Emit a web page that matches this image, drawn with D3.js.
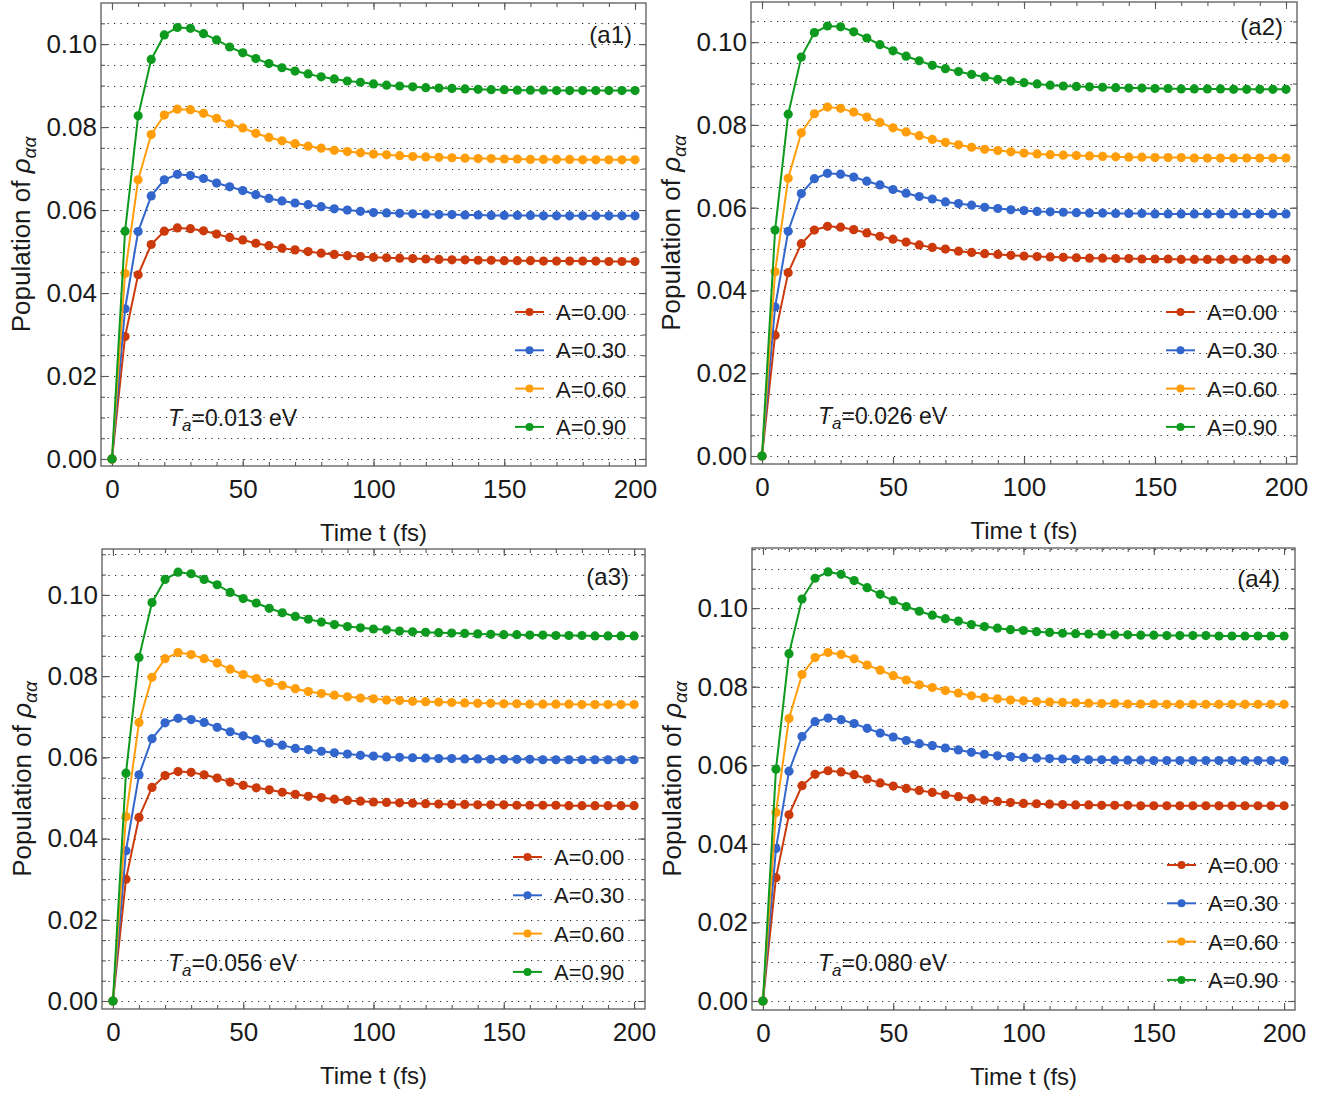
<!DOCTYPE html>
<html>
<head>
<meta charset="utf-8">
<script src="https://cdn.jsdelivr.net/npm/d3@7"></script>
<style>
  body { margin: 0; background: #fff; }
  svg { display: block; font-family: "Liberation Sans", Arial, sans-serif; }
</style>
</head>
<body>
<svg id="chart" width="1338" height="1096"></svg>
<script>
// ---------------- DATA ----------------
const timeFs = [0,5,10,15,20,25,30,35,40,45,50,55,60,65,70,75,80,85,90,95,100,105,110,115,120,125,130,135,140,145,150,155,160,165,170,175,180,185,190,195,200];
const seriesNames = ["A=0.00", "A=0.30", "A=0.60", "A=0.90"];
const panelLabels = ["(a1)", "(a2)", "(a3)", "(a4)"];
const temperatureLabels = ["0.013", "0.026", "0.056", "0.080"];
const xTickLabels = [0, 50, 100, 150, 200];
const yTickLabels = [0.00, 0.02, 0.04, 0.06, 0.08, 0.10];

// panel a1 (Ta = 0.013 eV)
const a1_A000 = [0,0.0295,0.0444,0.0517,0.0549,0.0557,0.0555,0.0550,0.0542,0.0534,0.0528,0.0520,0.0514,0.0508,0.0504,0.0500,0.0496,0.0493,0.0490,0.0488,0.0486,0.0485,0.0484,0.0483,0.0482,0.0481,0.0480,0.0480,0.0479,0.0479,0.0478,0.0478,0.0478,0.0477,0.0477,0.0477,0.0477,0.0477,0.0476,0.0476,0.0476];
const a1_A030 = [0,0.0362,0.0548,0.0634,0.0673,0.0686,0.0683,0.0676,0.0665,0.0656,0.0647,0.0637,0.0628,0.0622,0.0617,0.0613,0.0608,0.0603,0.0600,0.0597,0.0594,0.0593,0.0592,0.0591,0.0590,0.0589,0.0589,0.0588,0.0588,0.0587,0.0587,0.0587,0.0587,0.0586,0.0586,0.0586,0.0586,0.0586,0.0586,0.0586,0.0586];
const a1_A060 = [0,0.0447,0.0673,0.0782,0.0829,0.0843,0.0842,0.0833,0.0821,0.0808,0.0798,0.0785,0.0775,0.0767,0.0760,0.0754,0.0749,0.0744,0.0741,0.0738,0.0735,0.0733,0.0731,0.0729,0.0728,0.0727,0.0726,0.0725,0.0724,0.0724,0.0723,0.0723,0.0722,0.0722,0.0722,0.0722,0.0721,0.0721,0.0721,0.0721,0.0721];
const a1_A090 = [0,0.0549,0.0827,0.0963,0.1022,0.1040,0.1038,0.1025,0.1010,0.0993,0.0979,0.0965,0.0953,0.0943,0.0935,0.0928,0.0921,0.0916,0.0911,0.0908,0.0904,0.0901,0.0899,0.0897,0.0895,0.0894,0.0893,0.0892,0.0891,0.0890,0.0890,0.0889,0.0889,0.0889,0.0888,0.0888,0.0888,0.0888,0.0888,0.0888,0.0888];

// panel a2 (Ta = 0.026 eV)
const a2_A000 = [0,0.0292,0.0443,0.0513,0.0546,0.0555,0.0553,0.0547,0.0539,0.0531,0.0524,0.0517,0.0510,0.0504,0.0500,0.0495,0.0492,0.0489,0.0487,0.0485,0.0483,0.0482,0.0481,0.0480,0.0479,0.0478,0.0478,0.0477,0.0477,0.0476,0.0476,0.0476,0.0475,0.0475,0.0475,0.0475,0.0475,0.0475,0.0475,0.0475,0.0475];
const a2_A030 = [0,0.0360,0.0543,0.0634,0.0670,0.0683,0.0681,0.0674,0.0664,0.0655,0.0644,0.0635,0.0627,0.0621,0.0614,0.0610,0.0606,0.0601,0.0598,0.0595,0.0593,0.0591,0.0590,0.0589,0.0588,0.0587,0.0587,0.0586,0.0586,0.0586,0.0585,0.0585,0.0585,0.0585,0.0585,0.0585,0.0585,0.0585,0.0585,0.0585,0.0585];
const a2_A060 = [0,0.0445,0.0671,0.0781,0.0827,0.0843,0.0840,0.0831,0.0819,0.0806,0.0793,0.0783,0.0774,0.0765,0.0758,0.0752,0.0746,0.0741,0.0738,0.0735,0.0732,0.0730,0.0728,0.0727,0.0726,0.0725,0.0724,0.0723,0.0722,0.0722,0.0721,0.0721,0.0721,0.0720,0.0720,0.0720,0.0720,0.0720,0.0720,0.0720,0.0720];
const a2_A090 = [0,0.0546,0.0826,0.0964,0.1023,0.1039,0.1037,0.1025,0.1010,0.0994,0.0979,0.0966,0.0955,0.0944,0.0936,0.0929,0.0922,0.0916,0.0910,0.0906,0.0902,0.0899,0.0896,0.0894,0.0893,0.0892,0.0891,0.0890,0.0889,0.0889,0.0888,0.0888,0.0887,0.0887,0.0887,0.0887,0.0886,0.0886,0.0886,0.0886,0.0886];

// panel a3 (Ta = 0.056 eV)
const a3_A000 = [0,0.0300,0.0452,0.0526,0.0555,0.0565,0.0563,0.0557,0.0549,0.0539,0.0531,0.0525,0.0520,0.0514,0.0509,0.0504,0.0501,0.0497,0.0494,0.0492,0.0490,0.0489,0.0488,0.0487,0.0486,0.0485,0.0484,0.0484,0.0483,0.0483,0.0483,0.0482,0.0482,0.0482,0.0482,0.0481,0.0481,0.0481,0.0481,0.0481,0.0481];
const a3_A030 = [0,0.0370,0.0557,0.0646,0.0685,0.0696,0.0693,0.0686,0.0674,0.0663,0.0653,0.0644,0.0635,0.0630,0.0622,0.0619,0.0615,0.0611,0.0608,0.0605,0.0603,0.0601,0.0600,0.0599,0.0598,0.0597,0.0597,0.0596,0.0596,0.0595,0.0595,0.0595,0.0595,0.0594,0.0594,0.0594,0.0594,0.0594,0.0594,0.0594,0.0594];
const a3_A060 = [0,0.0454,0.0686,0.0797,0.0843,0.0858,0.0853,0.0843,0.0832,0.0817,0.0804,0.0794,0.0784,0.0777,0.0769,0.0762,0.0757,0.0753,0.0749,0.0746,0.0744,0.0741,0.0740,0.0738,0.0737,0.0736,0.0735,0.0734,0.0733,0.0733,0.0732,0.0732,0.0731,0.0731,0.0731,0.0731,0.0730,0.0730,0.0730,0.0730,0.0730];
const a3_A090 = [0,0.0561,0.0846,0.0981,0.1038,0.1056,0.1052,0.1038,0.1025,0.1006,0.0991,0.0980,0.0967,0.0956,0.0947,0.0940,0.0933,0.0927,0.0922,0.0919,0.0916,0.0914,0.0911,0.0909,0.0908,0.0907,0.0906,0.0905,0.0904,0.0903,0.0902,0.0902,0.0901,0.0901,0.0900,0.0900,0.0900,0.0899,0.0899,0.0899,0.0899];

// panel a4 (Ta = 0.080 eV)
const a4_A000 = [0,0.0314,0.0474,0.0548,0.0577,0.0586,0.0583,0.0576,0.0565,0.0555,0.0547,0.0541,0.0536,0.0531,0.0525,0.0520,0.0515,0.0511,0.0508,0.0505,0.0503,0.0502,0.0501,0.0500,0.0499,0.0499,0.0498,0.0498,0.0498,0.0497,0.0497,0.0497,0.0497,0.0497,0.0497,0.0497,0.0497,0.0497,0.0497,0.0497,0.0497];
const a4_A030 = [0,0.0388,0.0585,0.0673,0.0711,0.0720,0.0716,0.0706,0.0694,0.0682,0.0672,0.0663,0.0655,0.0650,0.0644,0.0639,0.0633,0.0628,0.0624,0.0622,0.0620,0.0618,0.0617,0.0616,0.0615,0.0614,0.0614,0.0613,0.0613,0.0613,0.0612,0.0612,0.0612,0.0612,0.0612,0.0612,0.0612,0.0612,0.0612,0.0612,0.0612];
const a4_A060 = [0,0.0480,0.0719,0.0831,0.0874,0.0887,0.0882,0.0871,0.0855,0.0842,0.0828,0.0817,0.0805,0.0798,0.0790,0.0784,0.0777,0.0772,0.0769,0.0766,0.0764,0.0762,0.0761,0.0760,0.0759,0.0758,0.0757,0.0757,0.0756,0.0756,0.0756,0.0755,0.0755,0.0755,0.0755,0.0755,0.0755,0.0755,0.0755,0.0755,0.0755];
const a4_A090 = [0,0.0590,0.0884,0.1023,0.1076,0.1092,0.1086,0.1070,0.1052,0.1035,0.1019,0.1004,0.0992,0.0982,0.0973,0.0967,0.0958,0.0953,0.0949,0.0945,0.0943,0.0940,0.0938,0.0936,0.0935,0.0934,0.0933,0.0932,0.0932,0.0931,0.0931,0.0930,0.0930,0.0930,0.0930,0.0929,0.0929,0.0929,0.0929,0.0929,0.0929];

const panelSeries = [
  [a1_A000, a1_A030, a1_A060, a1_A090],
  [a2_A000, a2_A030, a2_A060, a2_A090],
  [a3_A000, a3_A030, a3_A060, a3_A090],
  [a4_A000, a4_A030, a4_A060, a4_A090]
];

// ---------------- STYLE / LAYOUT ----------------
const colors = ["#CC3A0C", "#3366CC", "#FF9E0A", "#0E9A1E"];
const layout = [
  { x: 101, y: 3,   w: 545, h: 463, yDom: [-0.00169, 0.1099], leg: { x: 515, y: 312 }, ta: { x: 168, y: 426 }, lab: { x: 632, y: 43 } },
  { x: 751, y: 2,   w: 546, h: 462, yDom: [-0.00193, 0.1097], leg: { x: 1166, y: 312 }, ta: { x: 818, y: 424 }, lab: { x: 1283, y: 35 } },
  { x: 102, y: 549, w: 543, h: 460, yDom: [-0.00197, 0.1113], leg: { x: 513, y: 857 }, ta: { x: 168, y: 971 }, lab: { x: 629, y: 585 } },
  { x: 752, y: 548, w: 543, h: 462, yDom: [-0.00229, 0.1153], leg: { x: 1167, y: 865 }, ta: { x: 818, y: 971 }, lab: { x: 1280, y: 587 } }
];
const xDom = [-4.2, 204.2];

const svg = d3.select("#chart");
const textColor = "#1a1a1a";
const frameColor = "#5a5a5a";

layout.forEach((L, pi) => {
  const g = svg.append("g");
  const x = d3.scaleLinear().domain(xDom).range([L.x, L.x + L.w]);
  const y = d3.scaleLinear().domain(L.yDom).range([L.y + L.h, L.y]);

  // dotted gridlines every 0.005
  const minorY = d3.range(0, L.yDom[1] + 1e-9, 0.005);
  g.append("g").selectAll("line").data(minorY).join("line")
    .attr("x1", L.x).attr("x2", L.x + L.w)
    .attr("y1", d => Math.round(y(d)) + 0.5).attr("y2", d => Math.round(y(d)) + 0.5)
    .attr("stroke", "#222").attr("stroke-width", 1.1)
    .attr("stroke-dasharray", "1.2,5.3");

  // axes with inside ticks
  const minorX = d3.range(0, 201, 10);
  const mkAxis = (axisFn, scale, vals, size, labels, translate, pad) => {
    const ax = axisFn(scale).tickValues(vals).tickSizeInner(-size).tickSizeOuter(0).tickPadding(pad);
    if (!labels) ax.tickFormat("");
    const a = g.append("g").attr("transform", translate).call(ax);
    a.select(".domain").remove();
    a.selectAll(".tick line").attr("stroke", frameColor).attr("stroke-width", 1.1);
    a.selectAll("text").attr("fill", textColor).style("font-size", "26px")
      .style("font-family", '"Liberation Sans", Arial, sans-serif');
    return a;
  };
  // bottom
  mkAxis(d3.axisBottom, x, minorX, 4, false, `translate(0,${L.y + L.h})`, 14);
  mkAxis(d3.axisBottom, x, xTickLabels, 7, true, `translate(0,${L.y + L.h})`, 14);
  // top
  mkAxis(d3.axisTop, x, minorX, 4, false, `translate(0,${L.y})`, 8);
  mkAxis(d3.axisTop, x, xTickLabels, 7, false, `translate(0,${L.y})`, 8);
  // left
  mkAxis(d3.axisLeft, y, minorY, 4, false, `translate(${L.x},0)`, 4);
  const ly = mkAxis(d3.axisLeft, y, yTickLabels, 7, true, `translate(${L.x},0)`, 4);
  ly.call(a => a.selectAll("text").text(d => d3.format(".2f")(d)));
  // right
  mkAxis(d3.axisRight, y, minorY, 4, false, `translate(${L.x + L.w},0)`, 4);
  mkAxis(d3.axisRight, y, yTickLabels, 7, false, `translate(${L.x + L.w},0)`, 4);

  // series
  const line = d3.line().x((d, i) => x(timeFs[i])).y(d => y(d));
  panelSeries[pi].forEach((vals, si) => {
    const sg = g.append("g");
    sg.append("path").datum(vals).attr("d", line)
      .attr("fill", "none").attr("stroke", colors[si]).attr("stroke-width", 2)
      .attr("stroke-linejoin", "round");
    sg.selectAll("circle").data(vals).join("circle")
      .attr("cx", (d, i) => x(timeFs[i])).attr("cy", d => y(d)).attr("r", 4.6)
      .attr("fill", colors[si]);
  });

  // frame
  g.append("rect").attr("x", L.x).attr("y", L.y).attr("width", L.w).attr("height", L.h)
    .attr("fill", "none").attr("stroke", frameColor).attr("stroke-width", 1.3);

  // legend
  seriesNames.forEach((name, si) => {
    const ly0 = L.leg.y + si * 38.3;
    g.append("line").attr("x1", L.leg.x).attr("x2", L.leg.x + 29)
      .attr("y1", ly0).attr("y2", ly0).attr("stroke", colors[si]).attr("stroke-width", 2);
    g.append("circle").attr("cx", L.leg.x + 14.5).attr("cy", ly0).attr("r", 4).attr("fill", colors[si]);
    g.append("text").attr("x", L.leg.x + 41).attr("y", ly0 + 8)
      .attr("fill", textColor).style("font-size", "22px").text(name);
  });

  // temperature label
  const ta = g.append("text").attr("x", L.ta.x).attr("y", L.ta.y)
    .attr("fill", textColor).style("font-size", "23px");
  ta.append("tspan").style("font-style", "italic").text("T");
  ta.append("tspan").style("font-style", "italic").style("font-size", "17px").attr("dy", 5).text("a");
  ta.append("tspan").attr("dy", -5).text("=" + temperatureLabels[pi] + " eV");

  // panel label
  g.append("text").attr("x", L.lab.x).attr("y", L.lab.y).attr("text-anchor", "end")
    .attr("fill", textColor).style("font-size", "24px").text(panelLabels[pi]);

  // axis titles
  g.append("text").attr("x", L.x + L.w / 2).attr("y", L.y + L.h + 75)
    .attr("text-anchor", "middle").attr("fill", textColor).style("font-size", "24px")
    .text("Time t (fs)");
  const yt = g.append("text")
    .attr("transform", `translate(${L.x - 71},${L.y + L.h / 2}) rotate(-90)`)
    .attr("text-anchor", "middle").attr("fill", textColor).style("font-size", "26px");
  yt.append("tspan").text("Population of ");
  yt.append("tspan").style("font-style", "italic").text("ρ");
  yt.append("tspan").style("font-style", "italic").style("font-size", "19px").attr("dy", 6).text("αα");
});
</script>
</body>
</html>
